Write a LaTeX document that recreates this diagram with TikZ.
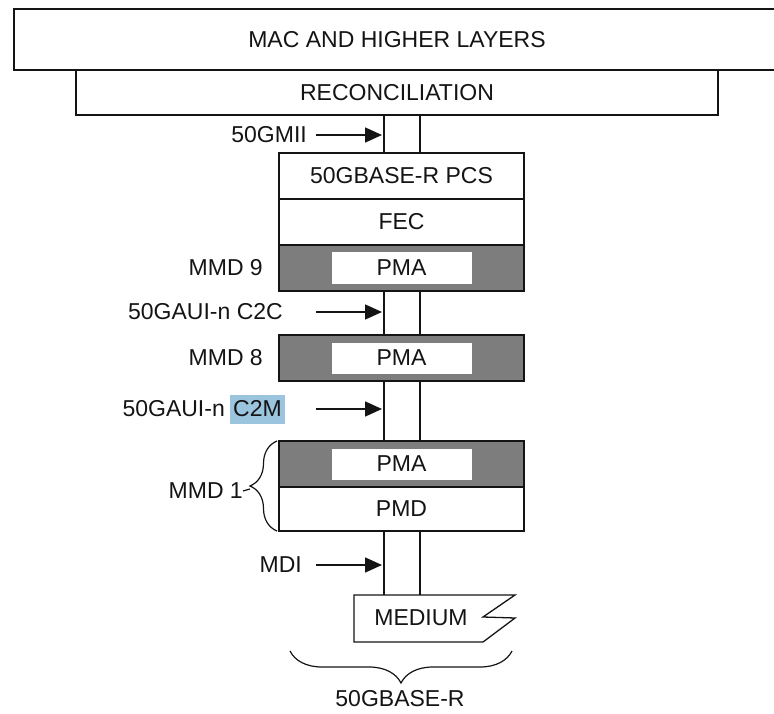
\documentclass[tikz,border=0pt]{standalone}
\usepackage{fontspec}
\setmainfont{Liberation Sans}
\usetikzlibrary{
    arrows.meta,
    decorations.pathreplacing,
    positioning
}
\definecolor{ink}{RGB}{20,20,20}
\definecolor{pmagray}{RGB}{125,125,125}
\definecolor{selblue}{RGB}{155,196,222}
\tikzset{
    line join=miter,
    txt/.style={
        font=\fontsize{23}{27}\selectfont,
        text=ink
    },
    layer/.style={
        txt,
        rectangle,
        draw=ink,
        line width=1.6pt,
        fill=white,
        inner sep=0pt,
        outer sep=0pt
    },
    stackbox/.style={
        layer,
        minimum width=245pt,
        minimum height=46pt
    },
    mmdbox/.style={
        stackbox,
        fill=pmagray
    },
    pmabox/.style={
        txt,
        rectangle,
        fill=white,
        minimum width=140pt,
        minimum height=31pt,
        inner sep=0pt
    },
    iflabel/.style={
        txt,
        anchor=east,
        inner sep=0pt
    },
    ifarrow/.style={
        -{Triangle[length=17pt,width=15pt]},
        draw=ink,
        line width=1.6pt
    },
    link/.style={
        draw=ink,
        line width=1.6pt
    },
    bracket/.style={
        decorate,
        draw=ink,
        line width=1.2pt
    }
}

\begin{document}
\begin{tikzpicture}[x=1pt, y=-1pt]

    % page frame (the top box runs off the right edge)
    \clip (0,0) rectangle (774,714);

    % upper layers
    \node[layer, minimum width=766pt, minimum height=61pt] (mac) at (397,39.5) {MAC AND HIGHER LAYERS};
    \node[layer, minimum width=642pt, minimum height=45pt] (recon) at (397,92.5) {RECONCILIATION};

    % sublayer stack
    \node[stackbox] (pcs) at (401.5,176) {50GBASE-R PCS};
    \node[stackbox, below=0pt of pcs] (fec) {FEC};
    \node[mmdbox, below=0pt of fec] (mmdnine) {};
    \node[pmabox] (pmanine) at (mmdnine) {PMA};
    \node[mmdbox, below=44pt of mmdnine] (mmdeight) {};
    \node[pmabox] (pmaeight) at (mmdeight) {PMA};
    \node[mmdbox, below=60pt of mmdeight] (mmdone) {};
    \node[pmabox] (pmaone) at (mmdone) {PMA};
    \node[stackbox, below=0pt of mmdone, minimum height=44pt] (pmd) {PMD};

    % medium
    \node[txt, inner sep=0pt] (medium) at (421,618) {MEDIUM};
    \draw[link, line width=1.3pt] (354,595) -- (515,595) -- (483,617) -- (515,618)
        -- (483,642) -- (354,642) -- cycle;
    \coordinate (medtop) at (354,595);

    % the two lines of each interface
    \coordinate (ll) at (384,0);
    \coordinate (rl) at (420,0);
    \foreach \a/\b in {recon/pcs, mmdnine/mmdeight, mmdeight/mmdone} {
        \draw[link] (ll |- \a.south) -- (ll |- \b.north);
        \draw[link] (rl |- \a.south) -- (rl |- \b.north);
    }
    \draw[link] (ll |- pmd.south) -- (ll |- medtop);
    \draw[link] (rl |- pmd.south) -- (rl |- medtop);

    % interface labels
    \coordinate (as) at (316,0);
    \coordinate (ae) at (382,0);
    \node[iflabel] (gmii) at (307,135) {50GMII};
    \node[iflabel] (mmdninelbl) at (263,268) {MMD 9};
    \node[iflabel] (ctoc) at (283,312) {50GAUI-n C2C};
    \node[iflabel] (mmdeightlbl) at (263,358) {MMD 8};
    \node[iflabel, fill=selblue, inner xsep=3pt, minimum height=29pt] (ctom) at (285,409) {C2M};
    \node[iflabel, left=5pt of ctom] (ctompre) {50GAUI-n};
    \node[iflabel] (mmdonelbl) at (243,491) {MMD 1};
    \node[iflabel] (mdi) at (302,565) {MDI};

    \draw[ifarrow] (as |- gmii) -- (ae |- gmii);
    \draw[ifarrow] (as |- ctoc) -- (ae |- ctoc);
    \draw[ifarrow] (as |- ctom) -- (ae |- ctom);
    \draw[ifarrow] (as |- mdi) -- (ae |- mdi);

    % braces
    \coordinate (onebot) at ([xshift=-2pt]pmd.south west);
    \coordinate (onetop) at ([xshift=-2pt]mmdone.north west);
    \draw[bracket, decoration={brace, amplitude=27pt}] (onebot) -- (onetop);
    \coordinate (onetip) at (250,489);
    \draw[link, line width=1.2pt] (mmdonelbl.east) -- (onetip);

    \coordinate (phyleft) at (290,651);
    \coordinate (phyright) at (512,651);
    \draw[bracket, decoration={brace, amplitude=32pt}] (phyright) -- (phyleft);
    \node[txt, inner sep=0pt] (phy) at (400,699) {50GBASE-R};

\end{tikzpicture}
\end{document}
